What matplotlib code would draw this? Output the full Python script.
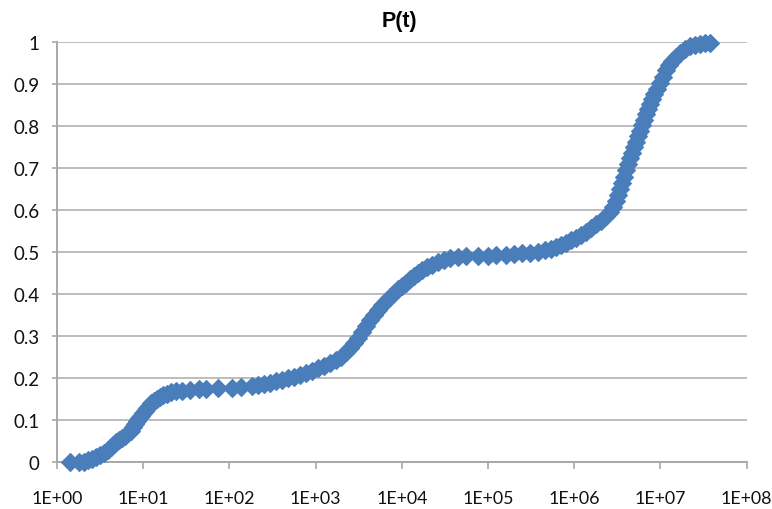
import matplotlib
matplotlib.use("Agg")
import matplotlib.pyplot as plt

# Data (time t, cumulative probability P)
t_values = [
    1.42, 1.80, 2.06, 2.29, 2.55, 2.84, 3.15, 3.51, 3.91, 4.23, 4.58,
    4.84, 5.24, 5.68, 6.15, 6.66, 7.22, 7.61, 8.03, 8.48, 8.94, 9.43, 9.95,
    10.5, 11.1, 11.7, 12.3, 13.3, 14.5, 15.7, 17.0, 18.9, 21.0, 24.0, 28.2,
    34.9, 44.4, 53.5, 73.8, 107, 136, 183, 215, 252, 296, 347, 408, 478,
    562, 659, 774, 908, 1066, 1252, 1469, 1725, 1971, 2253, 2507, 2789,
    3104, 3453, 3843, 4276, 4758, 5295, 5892, 6557, 7296, 8119, 9034,
    10053, 11186, 12448, 13851, 15413, 17151, 19607, 22406, 26297, 30872,
    36238, 44875, 55565, 76560, 100000, 123800, 161800, 200300, 248000,
    307000, 380200, 458400, 538000, 615100, 703200, 803600, 918400,
    1.049e6, 1.199e6, 1.371e6, 1.566e6, 1.790e6, 2.046e6, 2.339e6,
    2.602e6, 2.819e6, 3.054e6, 3.221e6, 3.398e6, 3.585e6, 3.782e6,
    3.989e6, 4.209e6, 4.440e6, 4.684e6, 4.941e6, 5.213e6, 5.499e6,
    5.801e6, 6.120e6, 6.456e6, 6.811e6, 7.185e6, 7.580e6, 7.991e6,
    8.430e6, 9.133e6, 9.894e6, 1.072e7, 1.161e7, 1.258e7, 1.363e7,
    1.517e7, 1.688e7, 1.929e7, 2.205e7, 2.520e7, 2.880e7, 3.292e7, 3.762e7,
]
p_values = [
    0.000, 0.000, 0.001, 0.004, 0.008, 0.012, 0.017, 0.022, 0.029, 0.035, 0.042,
    0.047, 0.053, 0.058, 0.063, 0.068, 0.075, 0.083, 0.090, 0.097, 0.104, 0.110, 0.116,
    0.122, 0.128, 0.134, 0.140, 0.146, 0.151, 0.156, 0.160, 0.163, 0.166, 0.168, 0.170,
    0.172, 0.174, 0.175, 0.176, 0.177, 0.178, 0.181, 0.184, 0.186, 0.189, 0.192, 0.196, 0.199,
    0.203, 0.207, 0.212, 0.217, 0.223, 0.229, 0.236, 0.243, 0.251, 0.261, 0.271, 0.283,
    0.296, 0.310, 0.324, 0.338, 0.351, 0.362, 0.373, 0.383, 0.393, 0.402, 0.411,
    0.419, 0.427, 0.435, 0.443, 0.450, 0.457, 0.464, 0.470, 0.476, 0.481,
    0.485, 0.488, 0.490, 0.490, 0.491, 0.492, 0.494, 0.496, 0.498,
    0.499, 0.501, 0.504, 0.508, 0.512, 0.517, 0.522, 0.528,
    0.534, 0.541, 0.549, 0.557, 0.566, 0.575, 0.585,
    0.596, 0.608, 0.622, 0.636, 0.650, 0.665, 0.680,
    0.695, 0.710, 0.724, 0.737, 0.750, 0.763, 0.776,
    0.789, 0.802, 0.815, 0.828, 0.841, 0.853, 0.865,
    0.876, 0.889, 0.902, 0.917, 0.935, 0.945, 0.955,
    0.966, 0.975, 0.984, 0.990, 0.994, 0.997, 0.998, 0.998,
]

x_ticks = [1e0, 1e1, 1e2, 1e3, 1e4, 1e5, 1e6, 1e7, 1e8]
x_tick_labels = ["1E+00", "1E+01", "1E+02", "1E+03", "1E+04",
                 "1E+05", "1E+06", "1E+07", "1E+08"]
y_ticks = [0, 0.1, 0.2, 0.3, 0.4, 0.5, 0.6, 0.7, 0.8, 0.9, 1.0]
y_tick_labels = ["0", "0.1", "0.2", "0.3", "0.4", "0.5",
                 "0.6", "0.7", "0.8", "0.9", "1"]
title = "P(t)"

plt.rcParams['font.family'] = ['Lato', 'DejaVu Sans']

fig = plt.figure(figsize=(7.72, 5.10), dpi=100)
ax = fig.add_axes([0.0738, 0.0922, 0.8934, 0.8229])

grid_col = "#bdbdbd"
axis_col = "#a8a8a8"
blue = "#4a7ebb"

ax.plot(t_values, p_values, linestyle="none", marker="D", markersize=9.3,
        color=blue, markeredgecolor=blue, markeredgewidth=0.8,
        zorder=3, clip_on=False)

ax.set_xscale("log")
ax.set_xlim(1, 1e8)
ax.set_ylim(0, 1)
ax.set_xticks(x_ticks)
ax.set_xticklabels(x_tick_labels)
ax.xaxis.set_minor_locator(matplotlib.ticker.NullLocator())
ax.set_yticks(y_ticks)
ax.set_yticklabels(y_tick_labels)

ax.yaxis.grid(True, color=grid_col, linewidth=1.4)
ax.xaxis.grid(False)
ax.set_axisbelow(True)

for s in ["top", "right"]:
    ax.spines[s].set_visible(False)
for s in ["left", "bottom"]:
    ax.spines[s].set_color(axis_col)
    ax.spines[s].set_linewidth(1.4)

ax.tick_params(axis="x", direction="out", length=5, width=1.2, color=axis_col,
               pad=15, labelsize=12.8, labelcolor="#111111")
ax.tick_params(axis="y", direction="out", length=3.6, width=1.2, color=axis_col,
               pad=9, labelsize=13.5, labelcolor="#111111")

fig.text(0.518, 0.957, title, ha="center", va="center",
         fontsize=15.5, fontweight="bold", family=["Liberation Sans", "DejaVu Sans"])

fig.savefig("out.png", dpi=100)
